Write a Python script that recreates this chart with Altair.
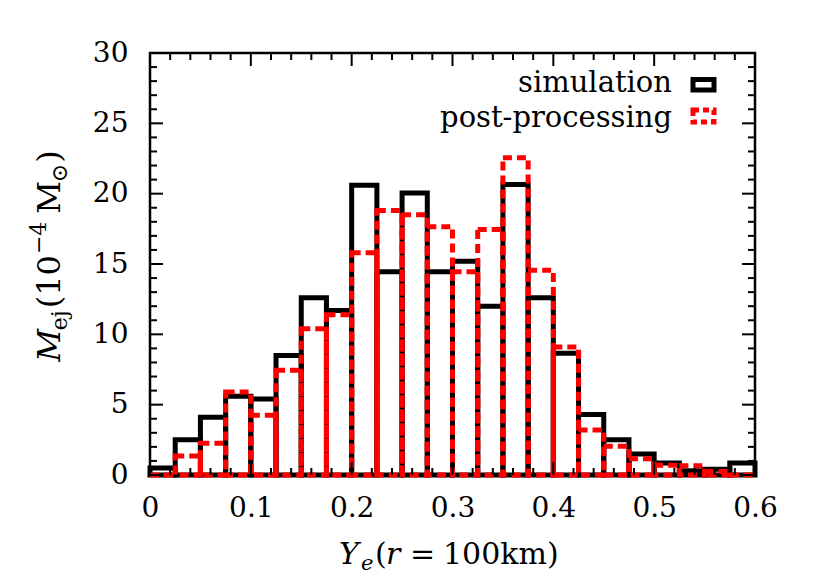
import altair as alt
import pandas as pd

# ---- data ----
bin_left = [0.0, 0.025, 0.05, 0.075, 0.1, 0.125, 0.15, 0.175, 0.2, 0.225, 0.25, 0.275,
            0.3, 0.325, 0.35, 0.375, 0.4, 0.425, 0.45, 0.475, 0.5, 0.525, 0.55, 0.575]
bin_right = [0.025, 0.05, 0.075, 0.1, 0.125, 0.15, 0.175, 0.2, 0.225, 0.25, 0.275, 0.3,
             0.325, 0.35, 0.375, 0.4, 0.425, 0.45, 0.475, 0.5, 0.525, 0.55, 0.575, 0.6]
simulation = [0.5, 2.5, 4.1, 5.6, 5.4, 8.5, 12.6, 11.7, 20.6, 14.45, 20.05, 14.45,
              15.2, 12.0, 20.65, 12.6, 8.65, 4.3, 2.5, 1.5, 0.85, 0.3, 0.4, 0.85]
post_processing = [0.0, 1.35, 2.25, 5.9, 4.25, 7.45, 10.4, 11.4, 15.8, 18.8, 18.5, 17.65,
                   14.45, 17.45, 22.55, 14.55, 9.1, 3.2, 2.05, 1.15, 0.7, 0.65, 0.25, 0.0]
series_labels = ["simulation", "post-processing"]

x_major = [0, 0.1, 0.2, 0.3, 0.4, 0.5, 0.6]
x_minor = [0.02, 0.04, 0.06, 0.08, 0.12, 0.14, 0.16, 0.18, 0.22, 0.24, 0.26, 0.28,
           0.32, 0.34, 0.36, 0.38, 0.42, 0.44, 0.46, 0.48, 0.52, 0.54, 0.56, 0.58]
y_major = [0, 5, 10, 15, 20, 25, 30]
y_minor = [1, 2, 3, 4, 6, 7, 8, 9, 11, 12, 13, 14, 16, 17, 18, 19,
           21, 22, 23, 24, 26, 27, 28, 29]

W, H = 605, 422
FONT = "DejaVu Serif"
FS = 28
RED = "#ff0000"
LW = 5

hist = pd.DataFrame({"x0": bin_left, "x1": bin_right,
                     "sim": simulation, "post": post_processing})

xs = alt.Scale(domain=[0, 0.6], nice=False, zero=False)
ys = alt.Scale(domain=[0, 30], nice=False, zero=False)

x_axis = alt.Axis(values=x_major, ticks=False, domain=False, grid=False, title=None,
                  labelFont=FONT, labelFontSize=FS, labelColor="black", labelPadding=19,
                  labelFlush=False, labelOverlap=False,
                  labelExpr="datum.value == 0 ? '0' : format(datum.value, '.1f')")
y_axis = alt.Axis(values=y_major, ticks=False, domain=False, grid=False, title=None,
                  labelFont=FONT, labelFontSize=FS, labelColor="black", labelPadding=22,
                  labelFlush=False, labelOverlap=False, format="d")

sim_layer = alt.Chart(hist).mark_rect(fillOpacity=0, stroke="black", strokeWidth=LW).encode(
    x=alt.X("x0:Q", scale=xs, axis=x_axis),
    x2="x1:Q",
    y=alt.Y("sim:Q", scale=ys, axis=y_axis),
    y2=alt.datum(0),
)
post_layer = alt.Chart(hist).mark_rect(fillOpacity=0, stroke=RED, strokeWidth=LW,
                                       strokeDash=[9, 5]).encode(
    x=alt.X("x0:Q", scale=xs, axis=x_axis),
    x2="x1:Q",
    y=alt.Y("post:Q", scale=ys, axis=y_axis),
    y2=alt.datum(0),
)

def xticks(vals, length):
    d = pd.DataFrame({"v": vals})
    bot = alt.Chart(d).mark_rule(color="black", strokeWidth=2).encode(
        x=alt.X("v:Q", scale=xs, axis=x_axis), y=alt.value(H), y2=alt.value(H - length))
    top = alt.Chart(d).mark_rule(color="black", strokeWidth=2).encode(
        x=alt.X("v:Q", scale=xs, axis=x_axis), y=alt.value(0), y2=alt.value(length))
    return [bot, top]

def yticks(vals, length):
    d = pd.DataFrame({"v": vals})
    left = alt.Chart(d).mark_rule(color="black", strokeWidth=2).encode(
        y=alt.Y("v:Q", scale=ys, axis=y_axis), x=alt.value(0), x2=alt.value(length))
    right = alt.Chart(d).mark_rule(color="black", strokeWidth=2).encode(
        y=alt.Y("v:Q", scale=ys, axis=y_axis), x=alt.value(W), x2=alt.value(W - length))
    return [left, right]

def piece(text, x, y, size=FS, style="normal", angle=0, align="left", color="black"):
    return alt.Chart(pd.DataFrame({"t": [text]})).mark_text(
        font=FONT, fontSize=size, fontStyle=style, angle=angle, align=align,
        baseline="alphabetic", color=color).encode(
        text="t:N", x=alt.value(x), y=alt.value(y))

# x-axis title:  Y_e(r = 100km)
xt_base = 511
x_title = [
    piece("Y", 189, xt_base, 30, "italic"),
    piece("e", 211, xt_base + 6, 21, "italic"),
    piece("(", 225, xt_base, 30),
    piece("r", 236, xt_base, 30, "italic"),
    piece("=", 260, xt_base, 30),
    piece("100km)", 293, xt_base, 30),
]

# y-axis title:  M_ej(10^-4 M_sun), rotated; laid out bottom-to-top
BIG, SMALL = 32, 22
yb = -90
parts = [  # text, size, style, baseline shift, width(em), gap after
    ("M", BIG, "italic", 0, 0.95, 1),
    ("ej", SMALL, "normal", 7, 0.912, 2),
    ("(10", BIG, "normal", 0, 1.662, 1),
    ("\u22124", SMALL, "normal", -14, 1.474, 8),
    ("M", BIG, "normal", 0, 0.95, 1),
    ("\u2299", SMALL, "normal", 7, 0.84, 1),
    (")", BIG, "normal", 0, 0.39, 0),
]
total = sum(p[1] * p[4] + p[5] for p in parts)
pos = 203 + total / 2
y_title = []
for txt, size, style, shift, wem, gap in parts:
    y_title.append(piece(txt, yb + shift, pos, size, style, angle=270))
    pos -= size * wem + gap

# legend
leg_df = pd.DataFrame({"t": series_labels})
legend = [
    alt.Chart(leg_df.iloc[[0]]).mark_text(font=FONT, fontSize=29, align="right",
                                          baseline="alphabetic", color="black").encode(
        text="t:N", x=alt.value(522), y=alt.value(39)),
    alt.Chart(leg_df.iloc[[1]]).mark_text(font=FONT, fontSize=29, align="right",
                                          baseline="alphabetic", color="black").encode(
        text="t:N", x=alt.value(522), y=alt.value(74)),
    alt.Chart(leg_df.iloc[[0]]).mark_rect(fillOpacity=0, stroke="black", strokeWidth=LW).encode(
        x=alt.value(543), x2=alt.value(564), y=alt.value(26.5), y2=alt.value(37)),
    alt.Chart(leg_df.iloc[[1]]).mark_rect(fillOpacity=0, stroke=RED, strokeWidth=LW,
                                          strokeDash=[6, 4]).encode(
        x=alt.value(543), x2=alt.value(564), y=alt.value(57), y2=alt.value(69)),
]

layers = ([sim_layer, post_layer] + xticks(x_major, 13) + xticks(x_minor, 7)
          + yticks(y_major, 13) + yticks(y_minor, 7) + x_title + y_title + legend)

chart = alt.layer(*layers).properties(
    width=W, height=H,
    autosize=alt.AutoSizeParams(type="none"),
    padding={"left": 142, "top": 45, "right": 60, "bottom": 100},
    background="white",
).configure_view(stroke="black", strokeWidth=2.5)

chart.save("out.html", embed_options={"renderer": "svg", "actions": False})
